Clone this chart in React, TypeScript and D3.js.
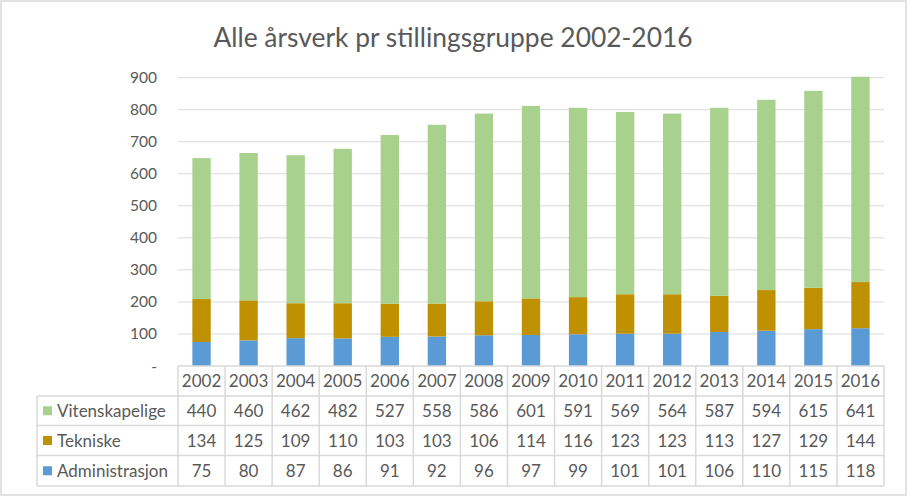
import React from "react";
import * as d3 from "d3";

const years = ["2002","2003","2004","2005","2006","2007","2008","2009","2010","2011","2012","2013","2014","2015","2016"];
const vitenskapelige = [440,460,462,482,527,558,586,601,591,569,564,587,594,615,641];
const tekniske = [134,125,109,110,103,103,106,114,116,123,123,113,127,129,144];
const administrasjon = [75,80,87,86,91,92,96,97,99,101,101,106,110,115,118];
const yTicks = [0,100,200,300,400,500,600,700,800,900];
const seriesNames = ["Vitenskapelige","Tekniske","Administrasjon"];
const seriesColors = ["#A9D18E","#BF9000","#5B9BD5"];

const W = 909, H = 497;
const plotLeft = 178, plotRight = 884, plotTop = 77.7, plotBottom = 366;
const tableLeft = 37;
const rowEdges = [366, 396, 425.5, 455.5, 486];
const FONT = "Lato, 'Open Sans', sans-serif";
const TXT = "#595959";
const GRID = "#D9D9D9";

export default function App() {
  const x = d3.scaleBand().domain(years).range([plotLeft, plotRight]).paddingInner(0).paddingOuter(0);
  const y = d3.scaleLinear().domain([0, 900]).range([plotBottom, plotTop]);
  const table = years.map((yr, i) => ({ year: yr, Administrasjon: administrasjon[i], Tekniske: tekniske[i], Vitenskapelige: vitenskapelige[i] }));
  const stack = d3.stack<any>().keys(["Administrasjon","Tekniske","Vitenskapelige"]);
  const stacked = stack(table);
  const colorOf = (k: string) => seriesColors[seriesNames.indexOf(k)];
  const bw = x.bandwidth() * 0.39;
  const rowData = [vitenskapelige, tekniske, administrasjon];

  return (
    <svg width={W} height={H} style={{ position: "absolute", left: 0, top: 0, fontFamily: FONT }}>
      <rect x={0} y={0} width={W} height={H} fill="#fff" />
      <rect x={1} y={1} width={905} height={494} fill="#fff" stroke={GRID} strokeWidth={1.5} />
      <text x={453} y={47} textAnchor="middle" fontSize={26.4} fill={TXT}>Alle årsverk pr stillingsgruppe 2002-2016</text>
      {yTicks.filter(t => t > 0).map(t => (
        <line key={t} x1={plotLeft} x2={plotRight} y1={y(t)} y2={y(t)} stroke={GRID} strokeWidth={1} />
      ))}
      {yTicks.map(t => (
        <text key={t} x={157} y={y(t) + 5.5} textAnchor="end" fontSize={15.5} fill={TXT}>{t === 0 ? "-" : t}</text>
      ))}
      {stacked.map(s => (
        <g key={s.key} fill={colorOf(s.key)}>
          {s.map((d, i) => (
            <rect key={i} x={(x(years[i]) as number) + x.bandwidth() / 2 - bw / 2} y={y(d[1])} width={bw} height={y(d[0]) - y(d[1])} />
          ))}
        </g>
      ))}
      {/* table */}
      <g stroke={GRID} strokeWidth={1.5} fill="none">
        <line x1={plotLeft} x2={plotRight} y1={rowEdges[0]} y2={rowEdges[0]} />
        {rowEdges.slice(1).map((r, i) => (
          <line key={i} x1={tableLeft} x2={plotRight} y1={r} y2={r} />
        ))}
        <line x1={tableLeft} x2={tableLeft} y1={rowEdges[1]} y2={rowEdges[4]} />
        {years.map((yr, i) => (
          <line key={yr} x1={x(yr) as number} x2={x(yr) as number} y1={rowEdges[0]} y2={rowEdges[4]} />
        ))}
        <line x1={plotRight} x2={plotRight} y1={rowEdges[0]} y2={rowEdges[4]} />
      </g>
      {years.map(yr => (
        <text key={yr} x={(x(yr) as number) + x.bandwidth() / 2} y={(rowEdges[0] + rowEdges[1]) / 2 + 6} textAnchor="middle" fontSize={17} fill={TXT}>{yr}</text>
      ))}
      {rowData.map((arr, r) => (
        <g key={r}>
          <rect x={43} y={(rowEdges[r + 1] + rowEdges[r + 2]) / 2 - 4.5} width={9} height={9} fill={seriesColors[r]} />
          <text x={57} y={(rowEdges[r + 1] + rowEdges[r + 2]) / 2 + 6} fontSize={17} fill={TXT}>{seriesNames[r]}</text>
          {arr.map((v, i) => (
            <text key={i} x={(x(years[i]) as number) + x.bandwidth() / 2} y={(rowEdges[r + 1] + rowEdges[r + 2]) / 2 + 6} textAnchor="middle" fontSize={17} fill={TXT}>{v}</text>
          ))}
        </g>
      ))}
    </svg>
  );
}
